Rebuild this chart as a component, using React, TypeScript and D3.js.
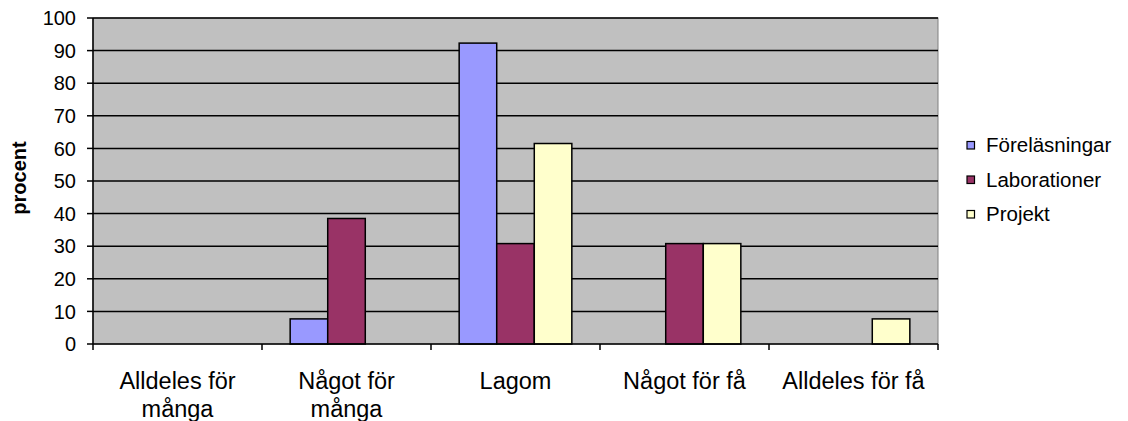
import React from "react";
import * as d3 from "d3";

const categories = [
  ["Alldeles för", "många"],
  ["Något för", "många"],
  ["Lagom"],
  ["Något för få"],
  ["Alldeles för få"],
];
const seriesNames = ["Föreläsningar", "Laborationer", "Projekt"];
const seriesColors = ["#9999FF", "#993366", "#FFFFCC"];
// percent per category, one array per series
const forelasningar = [0, 7.7, 92.3, 0, 0];
const laborationer = [0, 38.5, 30.8, 30.8, 0];
const projekt = [0, 0, 61.5, 30.8, 7.7];
const yTicks = d3.range(0, 101, 10);

const W = 1128;
const H = 421;
const margin = { left: 93, right: 190, top: 18, bottom: 77 };
const font = "'Liberation Sans', Arial, sans-serif";

const App: React.FC = () => {
  const values = [forelasningar, laborationer, projekt];
  const catKeys = categories.map((_, i) => String(i));

  const x = d3.scaleBand<string>()
    .domain(catKeys)
    .range([margin.left, W - margin.right])
    .paddingInner(0)
    .paddingOuter(0);

  const xs = d3.scaleBand<string>()
    .domain(seriesNames)
    .range([0, x.bandwidth()])
    .paddingInner(0)
    .paddingOuter(0.75);

  const y = d3.scaleLinear()
    .domain([0, 100])
    .range([H - margin.bottom, margin.top]);

  const x0 = margin.left;
  const x1 = W - margin.right;
  const yBase = y(0);

  return (
    <svg width={W} height={H} style={{ position: "absolute", left: 0, top: 0, background: "#fff" }} fontFamily={font}>
      {/* plot area */}
      <rect x={x0} y={y(100)} width={x1 - x0} height={yBase - y(100)} fill="#C0C0C0" stroke="#808080" strokeWidth={1} />

      {/* grid lines */}
      {yTicks.filter((t) => t > 0).map((t) => (
        <line key={t} x1={x0} x2={x1} y1={y(t)} y2={y(t)} stroke="#000" strokeWidth={1.5} />
      ))}

      {/* bars */}
      {values.map((vals, si) =>
        vals.map((v, ci) =>
          v > 0 ? (
            <rect
              key={`${si}-${ci}`}
              x={(x(String(ci)) ?? 0) + (xs(seriesNames[si]) ?? 0)}
              y={y(v)}
              width={xs.bandwidth()}
              height={yBase - y(v)}
              fill={seriesColors[si]}
              stroke="#000"
              strokeWidth={1.5}
            />
          ) : null
        )
      )}

      {/* y axis */}
      <line x1={x0} x2={x0} y1={y(100)} y2={yBase} stroke="#000" strokeWidth={1.5} />
      {yTicks.map((t) => (
        <g key={t}>
          <line x1={x0 - 6} x2={x0} y1={y(t)} y2={y(t)} stroke="#000" strokeWidth={1.5} />
          <text x={76} y={y(t)} dy="0.36em" textAnchor="end" fontSize={20} fill="#000">
            {t}
          </text>
        </g>
      ))}

      {/* x axis */}
      <line x1={x0} x2={x1} y1={yBase} y2={yBase} stroke="#000" strokeWidth={1.5} />
      {[...catKeys.map((k) => x(k) ?? 0), x1].map((px, i) => (
        <line key={i} x1={px} x2={px} y1={yBase} y2={yBase + 6} stroke="#000" strokeWidth={1.5} />
      ))}
      {categories.map((lines, ci) => (
        <text key={ci} x={(x(String(ci)) ?? 0) + x.bandwidth() / 2} y={389} textAnchor="middle" fontSize={23.5} fill="#000">
          {lines.map((l, li) => (
            <tspan key={li} x={(x(String(ci)) ?? 0) + x.bandwidth() / 2} dy={li === 0 ? 0 : 28}>
              {l}
            </tspan>
          ))}
        </text>
      ))}

      {/* y title */}
      <text transform={`translate(26,178) rotate(-90)`} textAnchor="middle" fontSize={20} fontWeight="bold" fill="#000">
        procent
      </text>

      {/* legend */}
      {seriesNames.map((name, i) => (
        <g key={name} transform={`translate(967,${145 + i * 34.5})`}>
          <rect x={0} y={-3.5} width={7.5} height={7.5} fill={seriesColors[i]} stroke="#000" strokeWidth={1.2} />
          <text x={19} y={0} dy="0.36em" fontSize={20.5} fill="#000">
            {name}
          </text>
        </g>
      ))}
    </svg>
  );
};

export default App;
